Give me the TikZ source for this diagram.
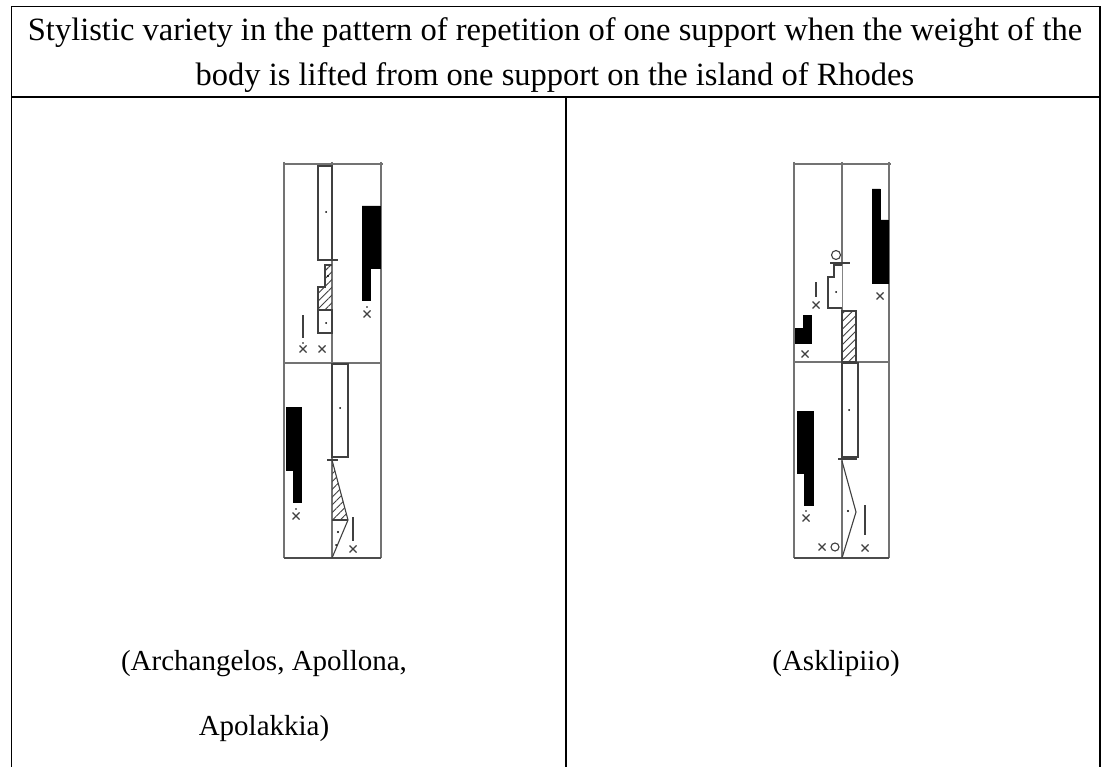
\documentclass[tikz,border=0pt]{standalone}
\usepackage{fontspec}
\setmainfont{Liberation Serif}
\usetikzlibrary{patterns.meta}
\tikzset{
  tbl/.style={draw=black, line width=1.7},
  staff/.style={draw=black!55, line width=1.2},
  sym/.style={draw=black!75, line width=1.1},
  blk/.style={fill=black, draw=black, line width=0.6},
  hatch/.style={pattern={Lines[angle=45,distance=5.5pt,line width=0.9pt]}, pattern color=black!75},
  txt/.style={font=\fontsize{29}{34}\selectfont, inner sep=0pt, anchor=base},
  ttl/.style={font=\fontsize{32.5}{38}\selectfont, inner sep=0pt, anchor=base},
  holdx/.pic={\draw[black!75, line width=1.1] (-3.5,-3.5)--(3.5,3.5) (-3.5,3.5)--(3.5,-3.5);},
}
\begin{document}
\begin{tikzpicture}[x=1pt,y=-1pt]
\useasboundingbox (0,0) rectangle (1110,767);
\fill[white] (0,0) rectangle (1110,767);
% table
\draw[tbl] (11.5,767) -- (11.5,6.5) -- (1100,6.5) -- (1100,767);
\draw[tbl] (11.5,97) -- (1100,97);
\draw[tbl] (566,97) -- (566,767);
% texts
\node[ttl] (t1) at (555,41) {Stylistic variety in the pattern of repetition of one support when the weight of the};
\node[ttl] (t2) at (555,86) {body is lifted from one support on the island of Rhodes};
\node[txt] (l1) at (264,670) {(Archangelos, Apollona,};
\node[txt] (l2) at (264,735) {Apolakkia)};
\node[txt] (r1) at (836,670) {(Asklipiio)};

% ===== Left diagram =====
\draw[staff] (284,162) -- (284,558) (332,162) -- (332,558) (381,162) -- (381,558);
\draw[staff] (283,164) -- (383,164) (284,363) -- (381,363);
\draw[black!70, line width=1.6] (284,558) -- (381,558);
% upper measure
\draw[sym, fill=white] (318,166) rectangle (332,260);
\fill[black] (326,212) circle (1);
\draw[sym] (317,260) -- (338,260);
\fill[hatch] (332,265) -- (325,265) -- (325,287) -- (318,287) -- (318,310) -- (332,310) -- cycle;
\draw[sym] (332,265) -- (325,265) -- (325,287) -- (318,287) -- (318,310) -- (332,310);
\fill[black] (328,276) circle (1.1);
\draw[sym] (318,310) rectangle (332,333);
\fill[black] (326,323) circle (1);
\draw[sym] (303,315) -- (303,338);
\pic at (303,349) {holdx};
\pic at (322,349) {holdx};
\fill[black] (303,343) circle (0.9);
\draw[blk] (362,206) -- (380,206) -- (380,268) -- (370,268) -- (370,300) -- (362,300) -- cycle;
\pic at (367,314) {holdx};
\fill[black] (367,307) circle (0.9);
% lower measure
\draw[sym, fill=white] (332,364) rectangle (348,457);
\fill[black] (340,408) circle (1);
\draw[blk] (286,407) -- (301,407) -- (301,502) -- (293,502) -- (293,470) -- (286,470) -- cycle;
\pic at (296,516) {holdx};
\fill[black] (296,509) circle (0.9);
\draw[sym] (327,460) -- (338,460);
\begin{scope}
  \clip (332,460) -- (348,520) -- (332,520) -- cycle;
  \fill[hatch] (328,455) rectangle (352,522);
\end{scope}
\draw[sym] (332,460) -- (348,520) -- (332,558);
\draw[sym] (332,520) -- (348,520);
\fill[black] (338,532) circle (1.2);
\fill[black] (336,545) circle (1);
\draw[sym] (353,517) -- (353,541);
\pic at (353,549) {holdx};

% ===== Right diagram =====
\draw[staff] (794,162) -- (794,558) (842,162) -- (842,558) (889,162) -- (889,558);
\draw[staff] (793,164) -- (891,164) (794,362) -- (889,362);
\draw[black!70, line width=1.6] (794,558) -- (889,558);
% upper measure
\draw[blk] (872,189) -- (880,189) -- (880,220) -- (888,220) -- (888,283) -- (872,283) -- cycle;
\pic at (880,296) {holdx};
\draw[sym] (836,255) circle (4.5);
\draw[sym] (830,263) -- (850,263);
\draw[sym, fill=white] (842,265) -- (834,265) -- (834,277) -- (828,277) -- (828,308) -- (842,308);
\fill[black] (836,292) circle (1);
\draw[sym] (816,282) -- (816,297);
\pic at (816,305) {holdx};
\draw[blk] (803,315) -- (811,315) -- (811,343) -- (795,343) -- (795,328) -- (803,328) -- cycle;
\pic at (805,354) {holdx};
\fill[hatch] (842,311) rectangle (856,362);
\draw[sym] (842,311) rectangle (856,362);
% lower measure
\draw[sym, fill=white] (842,363) rectangle (858,457);
\fill[black] (849,410) circle (1);
\draw[blk] (797,411) -- (813,411) -- (813,505) -- (804,505) -- (804,473) -- (797,473) -- cycle;
\pic at (806,518) {holdx};
\fill[black] (806,511) circle (0.9);
\draw[sym] (838,459) -- (857,459);
\draw[sym] (842,461) -- (856,512) -- (842,558);
\fill[black] (848,511) circle (1.1);
\draw[sym] (865,505) -- (865,535);
\pic at (865,548) {holdx};
\pic at (822,547) {holdx};
\draw[sym] (835,547) circle (4);
\end{tikzpicture}
\end{document}
